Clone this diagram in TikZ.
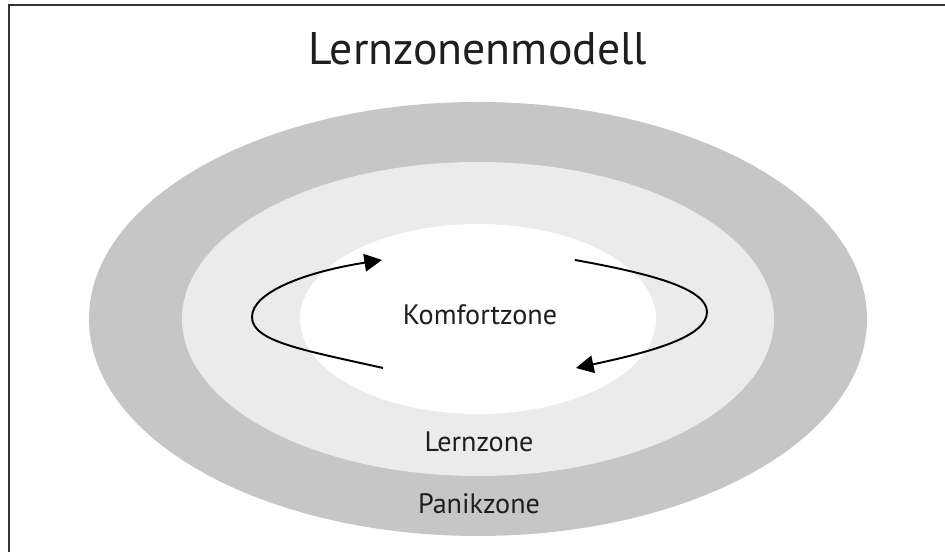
\documentclass[tikz,border=0pt]{standalone}
\usepackage{fontspec}
\setmainfont{PT Sans}
\usetikzlibrary{arrows.meta}

\definecolor{panikgray}{RGB}{197,198,197}
\definecolor{lerngray}{RGB}{235,235,235}
\definecolor{textgray}{RGB}{30,30,30}

\begin{document}
\begin{tikzpicture}[>={Triangle[length=10pt,width=10pt]}, every node/.style={text=textgray, font=\fontsize{16}{19}\selectfont}]
                \useasboundingbox (-9.56,-4.66) rectangle (9.34,6.38);
                \draw[line width=0.9pt, black!80] (-9.38,-4.66) -- (-9.38,6.28) -- (9.34,6.28);

                \fill[panikgray] (0,0) ellipse [x radius=7.78, y radius=4.34];
                \fill[lerngray] (0,0) ellipse [x radius=5.92, y radius=3.14];
                \fill[white] (0,0) ellipse [x radius=3.56, y radius=1.90];

                \node[anchor=base, font=\fontsize{26}{30}\selectfont] (title) at (0,5.08) {Lernzonenmodell};
                \node[anchor=base] (komfort) at (0.04,-0.12) {Komfortzone};
                \node[anchor=base] (lern) at (0.02,-2.66) {Lernzone};
                \node[anchor=base] (panik) at (0.02,-3.90) {Panikzone};

                \coordinate (l1) at (-1.90,-0.98);
                \coordinate (l2) at (-4.52,0.04);
                \coordinate (l3) at (-1.92,1.18);
                \coordinate (r1) at (1.94,1.18);
                \coordinate (r2) at (4.58,0.14);
                \coordinate (r3) at (1.96,-0.98);

                \draw[->, line width=1.1pt] (l1) .. controls (-3.5,-0.62) and (-4.52,-0.45) .. (l2)
                    .. controls (-4.52,0.55) and (-3.4,0.95) .. (l3);
                \draw[->, line width=1.1pt] (r1) .. controls (3.5,0.9) and (4.58,0.6) .. (r2)
                    .. controls (4.58,-0.35) and (3.5,-0.65) .. (r3);
            \end{tikzpicture}
\end{document}
